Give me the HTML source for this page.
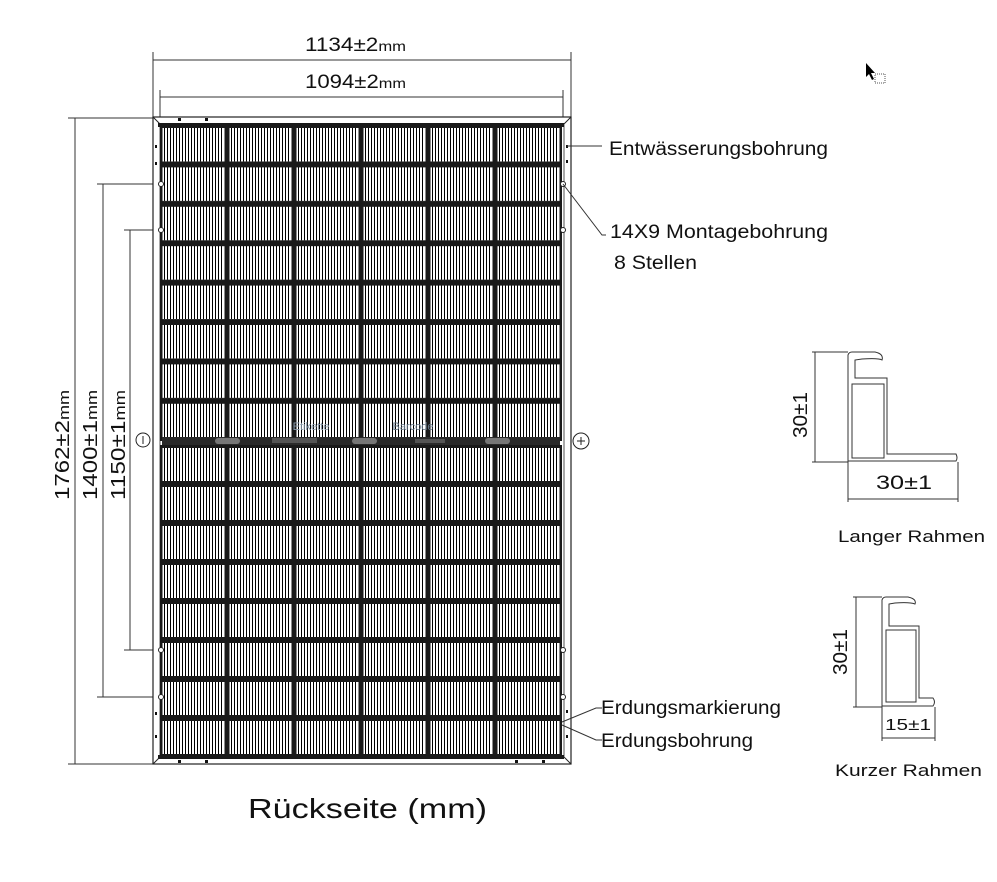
<!DOCTYPE html>
<html><head><meta charset="utf-8"><style>
html,body{margin:0;padding:0;background:#fff;}
svg{display:block;font-family:"Liberation Sans","Noto Sans CJK JP",sans-serif;}
</style></head><body>
<svg width="997" height="882" viewBox="0 0 997 882" xmlns="http://www.w3.org/2000/svg">
<defs>
<pattern id="pa" patternUnits="userSpaceOnUse" x="160" y="125" width="67" height="39.4">
<rect width="67" height="39.4" fill="#1a1a1a"/>
<rect x="2.5" y="3" width="62" height="33.5" fill="#fff"/>
<line x1="4" y1="19.7" x2="64" y2="19.7" stroke="#000" stroke-width="33.5" stroke-dasharray="1 2"/>
</pattern>
<pattern id="pb" patternUnits="userSpaceOnUse" x="160" y="445" width="67" height="39">
<rect width="67" height="39" fill="#1a1a1a"/>
<rect x="2.5" y="3" width="62" height="33" fill="#fff"/>
<line x1="4" y1="19.5" x2="64" y2="19.5" stroke="#000" stroke-width="33" stroke-dasharray="1 2"/>
</pattern>
</defs>

<g stroke="#333" stroke-width="1" fill="none">
<line x1="153" y1="60" x2="571" y2="60"/>
<line x1="153" y1="52" x2="153" y2="118"/>
<line x1="571" y1="52" x2="571" y2="118"/>
<line x1="160" y1="97" x2="563" y2="97"/>
<line x1="160" y1="90" x2="160" y2="124"/>
<line x1="563" y1="90" x2="563" y2="124"/>
<line x1="68" y1="118" x2="153" y2="118"/>
<line x1="68" y1="764" x2="153" y2="764"/>
<line x1="75" y1="118" x2="75" y2="764"/>
<line x1="97" y1="184" x2="158" y2="184"/>
<line x1="97" y1="697" x2="158" y2="697"/>
<line x1="103" y1="184" x2="103" y2="697"/>
<line x1="124" y1="230" x2="158" y2="230"/>
<line x1="124" y1="650" x2="158" y2="650"/>
<line x1="130" y1="230" x2="130" y2="650"/>
</g>
<text x="305" y="51" font-size="19" textLength="101" lengthAdjust="spacingAndGlyphs" fill="#111">1134±2<tspan font-size="14">mm</tspan></text>
<text x="305" y="88" font-size="19" textLength="101" lengthAdjust="spacingAndGlyphs" fill="#111">1094±2<tspan font-size="14">mm</tspan></text>
<g font-size="20" fill="#111">
<text transform="translate(69,500) rotate(-90)" textLength="110" lengthAdjust="spacingAndGlyphs">1762±2<tspan font-size="15">mm</tspan></text>
<text transform="translate(97,500) rotate(-90)" textLength="110" lengthAdjust="spacingAndGlyphs">1400±1<tspan font-size="15">mm</tspan></text>
<text transform="translate(125,500) rotate(-90)" textLength="110" lengthAdjust="spacingAndGlyphs">1150±1<tspan font-size="15">mm</tspan></text>
</g>
<circle cx="143" cy="440" r="7" fill="none" stroke="#222"/>
<line x1="143" y1="436" x2="143" y2="444" stroke="#222"/>
<circle cx="581" cy="441" r="8" fill="none" stroke="#222"/>
<line x1="577" y1="441" x2="585" y2="441" stroke="#222"/>
<line x1="581" y1="437" x2="581" y2="445" stroke="#222"/>

<rect x="153" y="117" width="418" height="647" fill="#fff" stroke="#222" stroke-width="1.2"/>
<line x1="153" y1="117" x2="160" y2="124" stroke="#222"/>
<line x1="571" y1="117" x2="564" y2="124" stroke="#222"/>
<line x1="153" y1="764" x2="160" y2="757" stroke="#222"/>
<line x1="571" y1="764" x2="564" y2="757" stroke="#222"/>
<line x1="160" y1="124" x2="160" y2="757" stroke="#555"/>
<line x1="564" y1="124" x2="564" y2="757" stroke="#555"/>
<rect x="158" y="123" width="406" height="4" fill="#1a1a1a"/>
<rect x="160" y="125" width="402" height="316" fill="url(#pa)"/>
<rect x="160" y="445" width="402" height="312" fill="url(#pb)"/>
<rect x="158" y="755" width="406" height="4" fill="#1a1a1a"/>
<rect x="162" y="437" width="398" height="8" fill="#2a2a2a"/>
<g fill="#777"><rect x="215" y="438" width="25" height="6" rx="3"/><rect x="352" y="438" width="25" height="6" rx="3"/><rect x="485" y="438" width="25" height="6" rx="3"/><rect x="272" y="438" width="45" height="5" fill="#555"/><rect x="415" y="439" width="30" height="4" fill="#555"/></g>
<text x="311" y="430" font-size="11" fill="#8899aa" text-anchor="middle">Etikette</text>
<text x="413" y="430" font-size="11" fill="#667788" text-anchor="middle">Barcode</text>
<g fill="#fff" stroke="#222" stroke-width="1">
<circle cx="161" cy="184" r="2.5"/><circle cx="161" cy="230" r="2.5"/><circle cx="161" cy="650" r="2.5"/><circle cx="161" cy="697" r="2.5"/>
<circle cx="563" cy="184" r="2.5"/><circle cx="563" cy="230" r="2.5"/><circle cx="563" cy="650" r="2.5"/><circle cx="563" cy="697" r="2.5"/>
</g>
<g fill="#111"><rect x="205" y="118" width="3" height="3"/><rect x="178" y="118" width="3" height="3"/><rect x="178" y="760" width="3" height="3"/><rect x="205" y="760" width="3" height="3"/><rect x="515" y="760" width="3" height="3"/><rect x="542" y="760" width="3" height="3"/><rect x="155" y="145" width="2" height="3"/><rect x="155" y="162" width="2" height="3"/><rect x="566" y="145" width="2" height="3"/><rect x="566" y="160" width="2" height="3"/><rect x="155" y="712" width="2" height="3"/><rect x="155" y="735" width="2" height="3"/><rect x="566" y="710" width="2" height="3"/><rect x="566" y="735" width="2" height="3"/></g>

<g stroke="#333" stroke-width="1" fill="none">
<line x1="567" y1="146" x2="602" y2="146"/>
<polyline points="563,184 602,235 606,235"/>
<polyline points="562,722 596,708 602,708"/>
<polyline points="562,725 596,740 602,740"/>
</g>
<g font-size="19" fill="#111" lengthAdjust="spacingAndGlyphs">
<text x="609" y="155" textLength="219" lengthAdjust="spacingAndGlyphs">Entwässerungsbohrung</text>
<text x="610" y="238" textLength="218" lengthAdjust="spacingAndGlyphs">14X9  Montagebohrung</text>
<text x="614" y="269" textLength="83" lengthAdjust="spacingAndGlyphs">8 Stellen</text>
<text x="601" y="714" textLength="180" lengthAdjust="spacingAndGlyphs">Erdungsmarkierung</text>
<text x="601" y="747" textLength="152" lengthAdjust="spacingAndGlyphs">Erdungsbohrung</text>
</g>
<text x="248" y="818" font-size="28" textLength="239" lengthAdjust="spacingAndGlyphs" fill="#111">Rückseite (mm)</text>

<path d="M866 63 L866 77 L869 74 L872 80 L874 79 L871 73 L875 73 Z" fill="#000"/>
<rect x="875" y="74" width="10" height="9" fill="none" stroke="#555" stroke-dasharray="1 1"/>

<g stroke="#333" stroke-width="1" fill="none">
<line x1="812" y1="352" x2="848" y2="352"/>
<line x1="812" y1="462" x2="848" y2="462"/>
<line x1="815" y1="352" x2="815" y2="462"/>
<line x1="848" y1="462" x2="848" y2="502"/>
<line x1="958" y1="462" x2="958" y2="502"/>
<line x1="848" y1="499" x2="958" y2="499"/>
<path d="M848 462 L848 355 Q849 352 852 352 L875 352 Q884 354 882 360 Q879 358 862 359 L855 360 L855 378 L887 378 L887 454 L956 454 Q958 458 956 461 L848 461 Z"/>
<rect x="852" y="384" width="32" height="74"/>
</g>
<text x="807" y="438" font-size="20" fill="#111" textLength="46" lengthAdjust="spacingAndGlyphs" transform="rotate(-90 807 438)">30±1</text>
<text x="876" y="489" font-size="19" fill="#111" textLength="56" lengthAdjust="spacingAndGlyphs">30±1</text>
<text x="838" y="542" font-size="17" fill="#111" textLength="147" lengthAdjust="spacingAndGlyphs">Langer Rahmen</text>

<g stroke="#333" stroke-width="1" fill="none">
<line x1="853" y1="597" x2="882" y2="597"/>
<line x1="853" y1="707" x2="882" y2="707"/>
<line x1="856" y1="597" x2="856" y2="707"/>
<line x1="882" y1="707" x2="882" y2="741"/>
<line x1="935" y1="707" x2="935" y2="741"/>
<line x1="882" y1="738" x2="935" y2="738"/>
<path d="M882 707 L882 600 Q883 597 886 597 L908 597 Q917 599 915 604 Q910 602 895 603 L889 604 L889 626 L919 626 L919 698 L933 698 Q936 702 933 706 L882 706 Z"/>
<rect x="886" y="630" width="30" height="72"/>
</g>
<text x="847" y="675" font-size="20" fill="#111" textLength="46" lengthAdjust="spacingAndGlyphs" transform="rotate(-90 847 675)">30±1</text>
<text x="885" y="730" font-size="16" fill="#111" textLength="46" lengthAdjust="spacingAndGlyphs">15±1</text>
<text x="835" y="776" font-size="17" fill="#111" textLength="147" lengthAdjust="spacingAndGlyphs">Kurzer Rahmen</text>
</svg>
</body></html>
